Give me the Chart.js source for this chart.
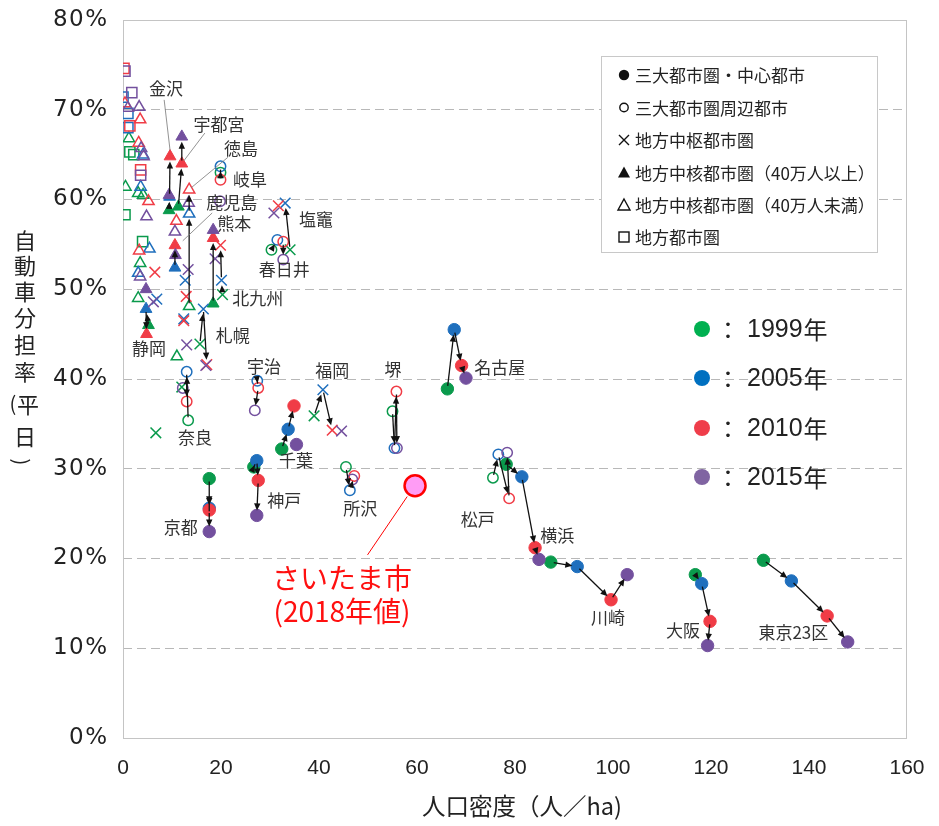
<!DOCTYPE html>
<html><head><meta charset="utf-8">
<script src="https://cdn.jsdelivr.net/npm/chart.js@4.4.0/dist/chart.umd.min.js"></script>
<style>html,body{margin:0;padding:0;background:#fff}#wrap{width:939px;height:826px}</style>
</head><body><div id="wrap"><canvas id="c" width="939" height="826"></canvas></div>
<script>
// ---------- DATA ----------
const years = [1999, 2005, 2010, 2015];
const yearLabels = ['1999年', '2005年', '2010年', '2015年'];
const xTickValues = [0, 20, 40, 60, 80, 100, 120, 140, 160];
const yTickValues = [0, 10, 20, 30, 40, 50, 60, 70, 80];
const typeNames = ['三大都市圏・中心都市', '三大都市圏周辺都市', '地方中枢都市圏', '地方中核都市圏（40万人以上）', '地方中核都市圏（40万人未満）', '地方都市圏'];

// [city, year, population density (人/ha), car share (%)]
const coreCities = [
  ['名古屋',1999,66.2,38.9],['名古屋',2005,67.6,45.5],['名古屋',2010,69.1,41.5],['名古屋',2015,70.0,40.1],
  ['千葉',1999,32.4,32.2],['千葉',2005,33.7,34.4],['千葉',2010,34.9,37.0],['千葉',2015,35.4,32.7],
  ['神戸',1999,26.7,30.2],['神戸',2005,27.3,30.9],['神戸',2010,27.6,28.7],['神戸',2015,27.3,24.8],
  ['京都',1999,17.6,28.9],['京都',2005,17.6,25.6],['京都',2010,17.6,25.4],['京都',2015,17.6,23.0],
  ['横浜',1999,78.2,30.5],['横浜',2005,81.4,29.1],['横浜',2010,84.1,21.2],['横浜',2015,84.9,19.9],
  ['川崎',1999,87.3,19.6],['川崎',2005,92.7,19.1],['川崎',2010,99.6,15.4],['川崎',2015,102.9,18.2],
  ['大阪',1999,116.8,18.2],['大阪',2005,118.1,17.2],['大阪',2010,119.8,13.0],['大阪',2015,119.3,10.3],
  ['東京23区',1999,130.7,19.8],['東京23区',2005,136.4,17.5],['東京23区',2010,143.7,13.6],['東京23区',2015,147.9,10.7]
];
const periCities = [
  ['堺',1999,55.0,36.4],['堺',2005,55.4,32.3],['堺',2010,55.8,38.6],['堺',2015,55.9,32.3],
  ['所沢',1999,45.5,30.2],['所沢',2005,46.3,27.6],['所沢',2010,47.2,29.2],['所沢',2015,46.8,28.8],
  ['松戸',1999,75.5,29.0],['松戸',2005,76.6,31.6],['松戸',2010,78.8,26.7],['松戸',2015,78.4,31.8],
  ['宇治',2005,27.4,39.8],['宇治',2010,27.6,39.0],['宇治',2015,26.9,36.5],
  ['奈良',1999,13.3,35.4],['奈良',2005,13.0,40.8],['奈良',2010,13.0,37.5],['奈良',2015,12.2,39.0],
  ['岐阜',1999,19.9,63.0],['岐阜',2005,19.9,63.7],['岐阜',2010,19.9,62.2],['',2015,19.8,59.8],
  ['春日井',1999,30.3,54.4],['春日井',2005,31.5,55.5],['春日井',2010,32.7,55.3],['春日井',2015,32.7,53.3]
];
const hubCities = [
  ['福岡',1999,39.0,35.9],['福岡',2005,40.8,38.8],['福岡',2010,42.7,34.3],['福岡',2015,44.6,34.2],
  ['札幌',1999,15.7,43.9],['札幌',2005,16.4,47.8],['札幌',2010,17.1,41.6],['札幌',2015,16.9,41.5],
  ['北九州',1999,20.3,49.4],['北九州',2005,20.1,51.0],['北九州',2010,19.9,54.9],['北九州',2015,18.8,53.4],
  ['塩竈',1999,34.1,54.4],['塩竈',2005,33.1,59.6],['塩竈',2010,31.7,59.3],['塩竈',2015,30.8,58.5],
  ['',1999,6.7,34.0],['',1999,12.0,39.1],['',2015,13.0,43.8],['',2010,12.4,46.5],['',2005,12.4,46.7],
  ['',2010,12.9,49.2],['',2005,12.7,51.0],['',2015,13.3,52.2],['',2010,6.5,51.9],['',2005,6.9,48.9],['',2015,6.2,48.6]
];
const midLargeCities = [
  ['金沢',1999,9.4,58.8],['金沢',2005,9.5,60.3],['金沢',2010,9.6,64.8],['金沢',2015,9.4,60.5],
  ['宇都宮',1999,11.3,59.2],['宇都宮',2010,12.0,64.0],['宇都宮',2015,12.0,67.0],
  ['鹿児島',2005,10.6,52.4],['鹿児島',2010,10.6,54.9],['鹿児島',2015,10.7,53.8],
  ['熊本',1999,18.4,48.4],['熊本',2010,18.4,55.7],['熊本',2015,18.4,56.6],
  ['静岡',1999,5.2,46.0],['静岡',2005,4.7,47.8],['静岡',2010,4.8,45.0],['静岡',2015,4.7,50.0]
];
const midSmallCities = [
  ['徳島',1999,13.5,48.1],['徳島',2005,13.5,58.4],['徳島',2010,13.5,61.1],['徳島',2015,13.4,59.6],
  ['',2010,10.9,57.6],['',2015,10.6,56.4],['',2010,5.2,59.8],['',2015,4.8,58.1],['',1999,3.1,49.0],
  ['',2005,5.4,54.5],['',2010,3.3,54.3],['',1999,3.5,52.9],['',2005,3.1,51.8],['',2015,3.5,51.4],
  ['',1999,11.0,42.5],['',1999,0.5,61.4],['',2005,3.6,61.4],['',1999,3.1,60.7],['',1999,4.1,60.5],
  ['',1999,1.2,66.8],['',2010,3.5,68.9],['',2010,3.2,66.3],['',2015,3.7,65.7],['',2015,3.3,70.3],
  ['',2010,0.4,70.7],['',2015,1.0,70.2],['',2005,4.1,65.0],['',2015,4.2,64.8]
];
const localCities = [
  ['',2010,0.2,74.6],['',2015,0.4,74.3],['',2005,0.0,71.4],['',2015,1.8,71.9],['',2010,1.4,68.2],
  ['',2005,1.0,68.0],['',1999,1.4,65.3],['',1999,2.2,65.0],['',2010,3.6,63.3],['',2015,3.6,62.7],
  ['',1999,0.4,58.3],['',1999,4.0,55.3],['',2005,1.0,69.6]
];
const saitama2018 = [59.6, 28.1];

// arrows: [city, fromYear, toYear]
const arrowLinks = [
  ['名古屋',1999,2005],['名古屋',2005,2010],['名古屋',2010,2015],
  ['千葉',1999,2005],['千葉',2005,2010],
  ['神戸',1999,2005],['神戸',2005,2010],['神戸',2010,2015],
  ['京都',1999,2005],['京都',2005,2010],['京都',2010,2015],
  ['横浜',1999,2005],['横浜',2005,2010],['横浜',2010,2015],
  ['川崎',1999,2005],['川崎',2005,2010],['川崎',2010,2015],
  ['大阪',1999,2005],['大阪',2005,2010],['大阪',2010,2015],
  ['東京23区',1999,2005],['東京23区',2005,2010],['東京23区',2010,2015],
  ['堺',1999,2005],['堺',2005,2010],['堺',2010,2015],
  ['所沢',1999,2005],['所沢',2005,2010],
  ['松戸',1999,2005],['松戸',2005,2010],['松戸',2010,2015],
  ['宇治',2005,2010],['宇治',2010,2015],
  ['奈良',1999,2005],['奈良',2005,2010],
  ['岐阜',1999,2005],
  ['春日井',1999,2005],['春日井',2010,2015],
  ['福岡',1999,2005],['福岡',2005,2010],
  ['札幌',1999,2005],['札幌',2005,2010],
  ['北九州',1999,2005],['北九州',2005,2010],
  ['塩竈',1999,2005],
  ['金沢',1999,2005],['金沢',2005,2010],
  ['宇都宮',1999,2010],['宇都宮',2010,2015],
  ['熊本',1999,2010],
  ['鹿児島',2005,2010],
  ['静岡',1999,2005],['静岡',2005,2010],
  ['徳島',1999,2005],['徳島',2005,2010]
];

// city name labels: [text, x, y] in data units (label centre)
const cityLabels = [
  ['金沢',8.8,72.4],['宇都宮',19.6,68.4],['徳島',24.1,65.7],['岐阜',25.9,62.2],['鹿児島',22.2,59.7],
  ['熊本',22.7,57.3],['塩竈',39.4,57.8],['春日井',32.9,52.2],['北九州',27.5,49.0],['札幌',22.4,44.8],
  ['静岡',5.3,43.4],['宇治',28.8,41.4],['福岡',42.7,40.9],['堺',55.1,41.0],['名古屋',76.9,41.3],
  ['奈良',14.7,33.5],['千葉',35.3,30.9],['神戸',32.9,26.5],['所沢',48.4,25.6],['京都',11.8,23.5],
  ['松戸',72.4,24.3],['横浜',88.6,22.6],['川崎',99.0,13.4],['大阪',114.3,12.0],['東京23区',136.8,11.8]
];
// leader lines [x1,y1,x2,y2] data units
const leaderLines = [[8.4,71.1,9.6,65.5],[16.7,67.4,12.4,64.3],[21.4,64.7,13.9,61.3],[18.2,58.5,12.2,55.4]];
const saitamaLeader = [58.0,26.9,49.9,20.4];

// ---------- STYLE ----------
const yearColors = {1999:'#0a9a4c', 2005:'#1f6fbd', 2010:'#f03c46', 2015:'#73509e'};
const legendYearColors = ['#00b050', '#0070c0', '#ef3d4a', '#8064a2'];
const CJK = '"Noto Sans CJK JP", "Noto Sans", sans-serif';

const typeDefs = [
  {rows: coreCities, style: 'circle', r: 6.2, fill: true},
  {rows: periCities, style: 'circle', r: 5.2, fill: false},
  {rows: hubCities, style: 'crossRot', r: 7.5, fill: false},
  {rows: midLargeCities, style: 'triangle', r: 6.8, fill: true},
  {rows: midSmallCities, style: 'triangle', r: 6.5, fill: false},
  {rows: localCities, style: 'rect', r: 7.2, fill: false}
];

const datasets = [];
datasets.push({
  label: 'さいたま市', data: [{x: saitama2018[0], y: saitama2018[1]}],
  pointStyle: 'circle', pointRadius: 10.5, backgroundColor: '#ff9cf5', borderColor: '#ff0000', borderWidth: 2.5, order: 0
});
typeDefs.forEach((t, ti) => {
  years.forEach((yr, yi) => {
    const c = yearColors[yr];
    datasets.push({
      label: typeNames[ti] + ' ' + yearLabels[yi],
      data: t.rows.filter(r => r[1] === yr).map(r => ({x: r[2], y: r[3]})),
      pointStyle: t.style, pointRadius: t.r,
      backgroundColor: t.fill ? c : 'rgba(255,255,255,0)',
      borderColor: c, borderWidth: t.fill ? 1 : 1.5,
      order: 10 + (ti === 0 ? 0 : 20) + (3 - yi)
    });
  });
});

const allRows = [].concat(coreCities, periCities, hubCities, midLargeCities, midSmallCities, localCities);
function findPt(city, yr) { return allRows.find(r => r[0] === city && r[1] === yr); }

function drawArrow(ctx, x1, y1, x2, y2, s0, s1) {
  const dx = x2 - x1, dy = y2 - y1, L = Math.hypot(dx, dy);
  if (L < 1) return;
  const ux = dx / L, uy = dy / L;
  const ax = x1 + ux * s0, ay = y1 + uy * s0;
  const bx = x2 - ux * s1, by = y2 - uy * s1;
  const hl = 7, hw = 3.2;
  ctx.beginPath(); ctx.moveTo(ax, ay); ctx.lineTo(bx - ux * hl * 0.6, by - uy * hl * 0.6); ctx.stroke();
  ctx.beginPath();
  ctx.moveTo(bx, by);
  ctx.lineTo(bx - ux * hl - uy * hw, by - uy * hl + ux * hw);
  ctx.lineTo(bx - ux * hl + uy * hw, by - uy * hl - ux * hw);
  ctx.closePath(); ctx.fill();
}

const overlay = {
  id: 'overlay',
  beforeDraw(chart) {
    const s = chart.scales.y;
    if (s && !s.__spaced) {
      const orig = s.drawLabels.bind(s);
      s.drawLabels = function (area) {
        const c = this.ctx; c.save(); c.letterSpacing = '1.5px'; orig(area); c.restore();
      };
      s.__spaced = true;
    }
  },
  beforeDatasetsDraw(chart) {
    const {ctx, chartArea: a} = chart;
    ctx.save();
    ctx.strokeStyle = '#c4c4c4'; ctx.lineWidth = 1;
    ctx.strokeRect(a.left + 0.5, a.top + 0.5, a.right - a.left - 1, a.bottom - a.top);
    ctx.restore();
  },
  afterDatasetsDraw(chart) {
    const {ctx} = chart;
    const xs = chart.scales.x, ys = chart.scales.y;
    const px = v => xs.getPixelForValue(v), py = v => ys.getPixelForValue(v);
    ctx.save();
    ctx.strokeStyle = '#111'; ctx.fillStyle = '#111'; ctx.lineWidth = 1.3;
    arrowLinks.forEach(([city, y1, y2]) => {
      const p = findPt(city, y1), q = findPt(city, y2);
      if (!p || !q) return;
      drawArrow(ctx, px(p[2]), py(p[3]), px(q[2]), py(q[3]), 3, 5);
    });
    ctx.strokeStyle = '#777'; ctx.lineWidth = 0.8;
    leaderLines.forEach(([a, b, c, d]) => { ctx.beginPath(); ctx.moveTo(px(a), py(b)); ctx.lineTo(px(c), py(d)); ctx.stroke(); });
    ctx.strokeStyle = '#ff0000'; ctx.lineWidth = 1;
    ctx.beginPath(); ctx.moveTo(px(saitamaLeader[0]), py(saitamaLeader[1])); ctx.lineTo(px(saitamaLeader[2]), py(saitamaLeader[3])); ctx.stroke();
    ctx.fillStyle = '#333'; ctx.font = '17px ' + CJK; ctx.textAlign = 'center'; ctx.textBaseline = 'middle';
    cityLabels.forEach(([t, x, y]) => ctx.fillText(t, px(x), py(y)));
    ctx.fillStyle = '#ff1010'; ctx.font = '28px ' + CJK;
    ctx.fillText('さいたま市', 342, 578);
    ctx.fillText('(2018年値)', 342, 611);
    ctx.restore();
  },
  afterDraw(chart) {
    const {ctx} = chart;
    ctx.save();
    ctx.fillStyle = '#222'; ctx.font = '22px ' + CJK; ctx.textAlign = 'center'; ctx.textBaseline = 'middle';
    const vchars = [['自',25,241],['動',25,266],['車',25,292],['分',25,318],['担',25,345],['率',25,372],['平',28,405],['日',25,437]];
    vchars.forEach(([c, x, y]) => ctx.fillText(c, x, y));
    ctx.font = '20px ' + CJK;
    ctx.fillText('(', 13, 403);
    ctx.save(); ctx.translate(22, 462); ctx.rotate(Math.PI / 2); ctx.fillText(')', 0, 0); ctx.restore();
    ctx.font = '23.5px ' + CJK; ctx.fillStyle = '#222';
    ctx.fillText('人口密度（人／ha)', 522, 806);
    ctx.strokeStyle = '#c8c8c8'; ctx.lineWidth = 1;
    ctx.fillStyle = '#fff';
    ctx.fillRect(601, 56, 276, 196);
    ctx.strokeRect(601.5, 56.5, 276, 196);
    const rowsY = [75, 107.5, 140, 172.5, 205, 237];
    ctx.fillStyle = '#111'; ctx.strokeStyle = '#111'; ctx.lineWidth = 1.4;
    const sx = 624;
    ctx.beginPath(); ctx.arc(sx, rowsY[0], 5.2, 0, Math.PI * 2); ctx.fill();
    ctx.beginPath(); ctx.arc(sx, rowsY[1], 4.2, 0, Math.PI * 2); ctx.stroke();
    ctx.beginPath(); ctx.moveTo(sx - 5, rowsY[2] - 5); ctx.lineTo(sx + 5, rowsY[2] + 5); ctx.moveTo(sx + 5, rowsY[2] - 5); ctx.lineTo(sx - 5, rowsY[2] + 5); ctx.stroke();
    ctx.beginPath(); ctx.moveTo(sx, rowsY[3] - 6); ctx.lineTo(sx + 6, rowsY[3] + 5); ctx.lineTo(sx - 6, rowsY[3] + 5); ctx.closePath(); ctx.fill();
    ctx.beginPath(); ctx.moveTo(sx, rowsY[4] - 6); ctx.lineTo(sx + 6, rowsY[4] + 5); ctx.lineTo(sx - 6, rowsY[4] + 5); ctx.closePath(); ctx.stroke();
    ctx.strokeRect(sx - 5, rowsY[5] - 5, 10, 10);
    ctx.font = '17px ' + CJK; ctx.textAlign = 'left'; ctx.fillStyle = '#222';
    typeNames.forEach((t, i) => ctx.fillText(t, 635, rowsY[i] + 1));
    const ly = [329, 378, 428, 477];
    years.forEach((yr, i) => {
      ctx.fillStyle = legendYearColors[i];
      ctx.beginPath(); ctx.arc(702, ly[i], 8, 0, Math.PI * 2); ctx.fill();
      ctx.fillStyle = '#222';
      ctx.font = '24px ' + CJK; ctx.textAlign = 'left';
      ctx.fillText('：', 716, ly[i] + 1);
      ctx.font = '25px "Liberation Sans", sans-serif';
      ctx.fillText(String(yr), 747, ly[i] + 1);
      const w = ctx.measureText(String(yr)).width;
      ctx.font = '24px ' + CJK;
      ctx.fillText('年', 747 + w + 1, ly[i] + 1);
    });
    ctx.restore();
  }
};

new Chart(document.getElementById('c'), {
  type: 'scatter',
  data: {datasets},
  options: {
    responsive: false, animation: false, devicePixelRatio: 1,
    layout: {padding: {left: 0, right: 32, top: 20, bottom: 0}},
    plugins: {legend: {display: false}, tooltip: {enabled: false}},
    scales: {
      x: {
        type: 'linear', min: 0, max: 160,
        afterBuildTicks: s => { s.ticks = xTickValues.map(v => ({value: v})); },
        afterFit: s => { s.height = 88; s.paddingLeft = 0; s.paddingRight = 0; },
        grid: {display: false, drawTicks: false},
        border: {display: false},
        ticks: {padding: 18, color: '#222', font: {family: '"Liberation Sans Narrow", "Liberation Sans", sans-serif', size: 21}}
      },
      y: {
        type: 'linear', min: 0, max: 80,
        afterBuildTicks: s => { s.ticks = yTickValues.map(v => ({value: v})); },
        afterFit: s => { s.width = 123; s.paddingTop = 0; s.paddingBottom = 0; },
        grid: {color: '#b8b8b8', lineWidth: 1, drawTicks: false},
        border: {display: false, dash: [9, 5]},
        ticks: {padding: 14.5, color: '#222', font: {family: '"DejaVu Sans", sans-serif', size: 23}, callback: v => v + '%'}
      }
    }
  },
  plugins: [overlay]
});
</script>
</body></html>
